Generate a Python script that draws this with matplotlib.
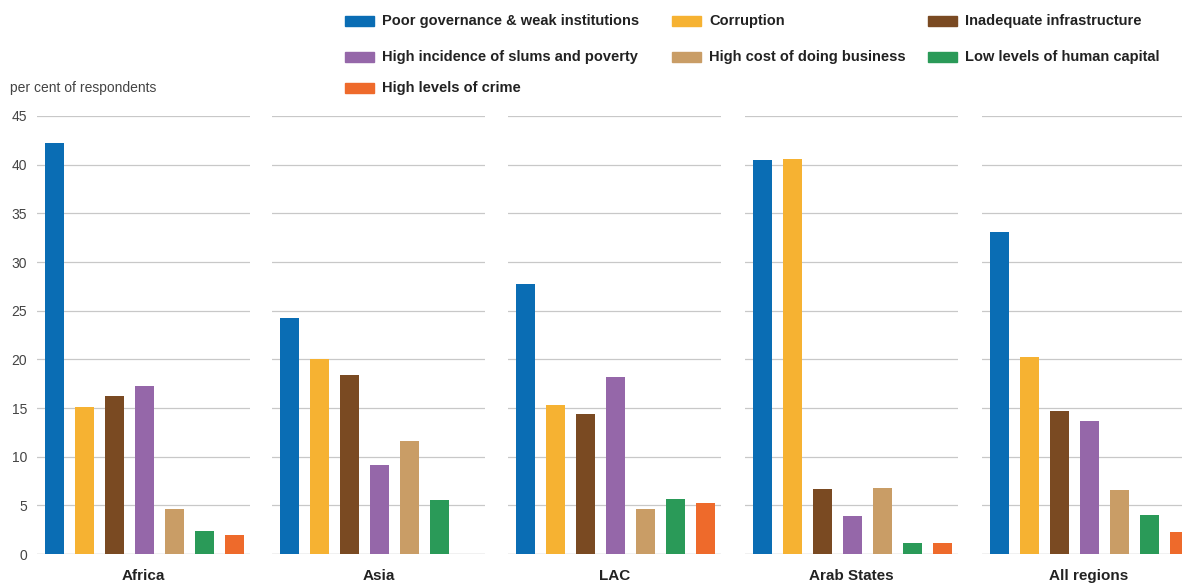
import numpy as np
import matplotlib
matplotlib.use("Agg")
import matplotlib.pyplot as plt
from matplotlib.patches import Rectangle

plt.rcParams['font.family'] = ['Liberation Sans', 'DejaVu Sans']

regions = ["Africa", "Asia", "LAC", "Arab States", "All regions"]
categories = ["Poor governance & weak institutions", "Corruption", "Inadequate infrastructure",
              "High incidence of slums and poverty", "High cost of doing business",
              "Low levels of human capital", "High levels of crime"]
colors = ["#0A6DB4", "#F6B232", "#7A4A22", "#9567A9", "#C99D66", "#2A9A58", "#EE6A2B"]

africa = [42.2, 15.1, 16.2, 17.3, 4.6, 2.4, 2.0]
asia = [24.2, 20.0, 18.4, 9.1, 11.6, 5.5, np.nan]
lac = [27.7, 15.3, 14.4, 18.2, 4.6, 5.6, 5.2]
arab = [40.5, 40.6, 6.7, 3.9, 6.8, 1.1, 1.1]
all_regions = [33.1, 20.2, 14.7, 13.7, 6.6, 4.0, 2.3]
values = [africa, asia, lac, arab, all_regions]

yticks = [0, 5, 10, 15, 20, 25, 30, 35, 40, 45]

W, H = 1182, 585
fig = plt.figure(figsize=(W / 100, H / 100), dpi=100)

panel_left_px = [37, 272, 508, 745, 982]
panel_w_px = 213
bottom_px, top_px = 554, 116

for i, (reg, vals) in enumerate(zip(regions, values)):
    ax = fig.add_axes([panel_left_px[i] / W, (H - bottom_px) / H,
                       panel_w_px / W, (bottom_px - top_px) / H])
    x = np.arange(len(categories))
    ax.bar(x, vals, width=0.63, color=colors, zorder=3)
    ax.set_xlim(-0.57, 6.53)
    ax.set_ylim(0, 45)
    ax.set_yticks(yticks)
    ax.yaxis.grid(True, color="#c8c8c8", linewidth=0.9, zorder=0)
    ax.axhline(0, color="#c8c8c8", linewidth=0.9, zorder=1)
    for s in ax.spines.values():
        s.set_visible(False)
    ax.set_xticks([])
    ax.tick_params(axis="y", length=0, pad=7, labelsize=10, labelcolor="#444444")
    if i != 0:
        ax.set_yticklabels([])
    ax.text(0.5, -0.035, reg, transform=ax.transAxes, ha="center", va="top",
            fontsize=11, fontweight="bold", color="#222222")

fig.text(10 / W, 1 - 88 / H, "per cent of respondents", ha="left", va="center",
         fontsize=10, color="#444444")

# legend laid out in 3 columns, row-major
col_x = [345, 672, 928]
row_y = [21, 57, 88]
for k, (cat, col) in enumerate(zip(categories, colors)):
    r, c = divmod(k, 3)
    px, py = col_x[c], row_y[r]
    fig.add_artist(Rectangle((px / W, 1 - (py + 5) / H), 29 / W, 10 / H,
                             transform=fig.transFigure, color=col))
    fig.text((px + 37) / W, 1 - py / H, cat, ha="left", va="center",
             fontsize=10.5, fontweight="bold", color="#222222")

fig.savefig("out.png", dpi=100)
